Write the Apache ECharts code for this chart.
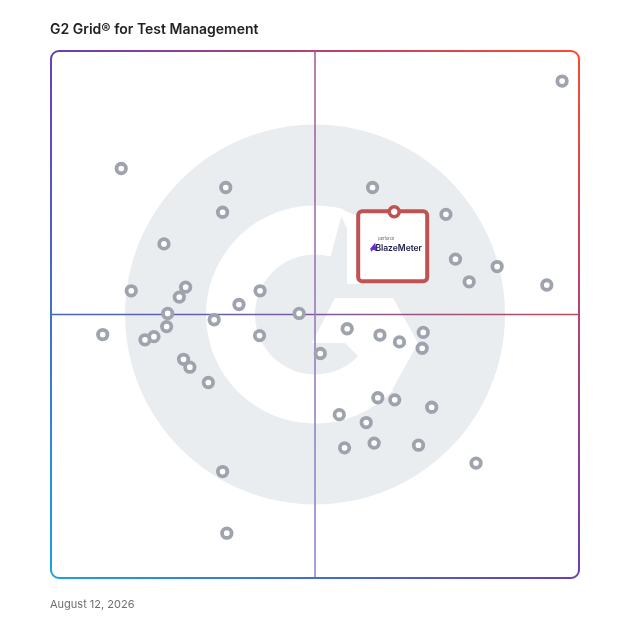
<!DOCTYPE html>
<html>
<head>
<meta charset="utf-8">
<title>G2 Grid for Test Management</title>
<script src="https://cdn.jsdelivr.net/npm/echarts@6/dist/echarts.min.js"></script>
<style>
  html, body { margin: 0; padding: 0; background: #fff; }
  #chart { width: 628px; height: 628px; }
</style>
</head>
<body>
<div id="chart"></div>
<script>
// satisfaction (x) vs market presence (y), both on a 0-100 scale
const productX = [96.8, 13.3, 33.1, 60.9, 32.5, 74.8, 21.4, 76.6, 84.5, 79.2, 93.9,
  15.2, 25.5, 24.3, 39.6, 35.6, 22.1, 47.0, 30.9, 21.9, 9.8, 17.8, 19.5, 39.5,
  56.1, 62.3, 70.5, 66.0, 70.3, 51.0, 25.1, 26.3, 29.8, 61.9, 65.1, 72.1, 54.6,
  59.7, 55.6, 61.2, 69.6, 80.5, 32.5, 33.3];
const productY = [94.3, 77.7, 74.1, 74.1, 69.4, 69.0, 63.4, 60.5, 59.1, 56.2, 55.6,
  54.5, 55.2, 53.3, 54.5, 51.9, 50.2, 50.2, 49.0, 47.7, 46.2, 45.2, 45.8, 46.0,
  47.3, 46.1, 46.6, 44.8, 43.6, 42.6, 41.5, 40.0, 37.1, 34.2, 33.8, 32.4, 31.0,
  29.5, 24.7, 25.6, 25.2, 21.8, 20.2, 8.5];

const featuredName = ['BlazeMeter'];
const featuredX = [65.0];
const featuredY = [69.5];

const titleText = 'G2 Grid® for Test Management';
const dateText = 'August 12, 2026';

const chart = echarts.init(document.getElementById('chart'))

chart.setOption({
  animation: false,
  title: [
    {
      text: titleText, left: 50, top: 23, padding: 0,
      textStyle: { fontFamily: 'Inter', fontWeight: 600, fontSize: 14, color: '#222' }
    },
    {
      text: dateText, left: 50, top: 599, padding: 0,
      textStyle: { fontFamily: 'Inter', fontWeight: 400, fontSize: 11, color: '#6f6f6f' }
    }
  ],
  grid: { left: 51, top: 51, width: 528, height: 527 },
  xAxis: { type: 'value', min: 0, max: 100, show: false },
  yAxis: { type: 'value', min: 0, max: 100, show: false },
  series: [
    {
      type: 'scatter',
      z: 3,
      symbolSize: 9.5,
      itemStyle: { color: '#fff', borderColor: '#9ea3ae', borderWidth: 3.8, opacity: 1 },
      data: productX.map((x, i) => [x, productY[i]])
    },
    {
      type: 'scatter',
      z: 8,
      symbolSize: 10,
      itemStyle: { color: '#fff', borderColor: '#c05352', borderWidth: 3.5, opacity: 1 },
      data: featuredX.map((x, i) => ({ name: featuredName[i], value: [x, featuredY[i]] }))
    }
  ]
})

// decoration: frame, quadrant lines, G2 watermark, featured product card
const tl = chart.convertToPixel({ gridIndex: 0 }, [0, 100])
const br = chart.convertToPixel({ gridIndex: 0 }, [100, 0])
const mid = chart.convertToPixel({ gridIndex: 0 }, [50, 50])
const fp = chart.convertToPixel({ gridIndex: 0 }, [featuredX[0], featuredY[0]])
const cx = mid[0], cy = mid[1]
const deg = Math.PI / 180

const shift = (pts, ox, oy) => pts.map(p => [p[0] + ox, p[1] + oy])

const chevron = [[20, -16.5], [78, -16.5], [103, 28.5], [77, 75.5], [30, 28.5], [-3, 28.5]]
const twoMark = [[22, -107], [45, -97.5], [45, -30.5], [32, -30.5], [32, -86.5]]

chart.setOption({
  graphic: [
    { type: 'circle', z: 0, silent: true, shape: { cx: cx, cy: cy, r: 190 }, style: { fill: '#eaedf0' } },
    {
      type: 'sector', z: 0, silent: true,
      shape: { cx: cx, cy: cy, r: 109, r0: 60, startAngle: 44 * deg, endAngle: 285 * deg, clockwise: true },
      style: { fill: '#fff' }
    },
    { type: 'polygon', z: 0, silent: true, shape: { points: shift(chevron, cx, cy) }, style: { fill: '#fff' } },
    { type: 'polygon', z: 0, silent: true, shape: { points: shift(twoMark, cx, cy) }, style: { fill: '#fff' } },
    {
      type: 'line', z: 1, silent: true,
      shape: { x1: tl[0], y1: cy, x2: br[0], y2: cy },
      style: {
        lineWidth: 1.6,
        stroke: new echarts.graphic.LinearGradient(tl[0], cy, br[0], cy, [
          { offset: 0, color: '#4563c0' }, { offset: 0.5, color: '#7d5b9e' }, { offset: 1, color: '#c24857' }
        ], true)
      }
    },
    {
      type: 'line', z: 1, silent: true,
      shape: { x1: cx, y1: tl[1], x2: cx, y2: br[1] },
      style: {
        lineWidth: 1.6,
        stroke: new echarts.graphic.LinearGradient(cx, tl[1], cx, br[1], [
          { offset: 0, color: '#a55f98' }, { offset: 0.5, color: '#9b7ab8' }, { offset: 1, color: '#8a8bd8' }
        ], true)
      }
    },
    {
      type: 'rect', z: 1, silent: true,
      shape: { x: tl[0], y: tl[1], width: br[0] - tl[0], height: br[1] - tl[1], r: 8 },
      style: {
        fill: 'none', lineWidth: 2,
        stroke: new echarts.graphic.LinearGradient(tl[0], br[1], br[0], tl[1], [
          { offset: 0, color: '#1ba2de' }, { offset: 0.5, color: '#6a3db6' }, { offset: 1, color: '#ff4a2b' }
        ], true)
      }
    },
    {
      type: 'group', z: 6, x: fp[0], y: fp[1], silent: true,
      children: [
        {
          type: 'rect', z: 6,
          shape: { x: -36, y: -0.5, width: 69, height: 70, r: 4 },
          style: { fill: '#fff', stroke: '#c05352', lineWidth: 4 }
        },
        {
          type: 'polygon', z: 7,
          shape: { points: [[-24, 37], [-19, 31], [-17.5, 39.5], [-21, 38], [-23, 40]] },
          style: { fill: '#6a2be0' }
        },
        {
          type: 'text', z: 7,
          style: { x: -16, y: 27, text: 'perforce', fontSize: 4, fill: '#555', fontFamily: 'Inter', verticalAlign: 'middle' }
        },
        {
          type: 'text', z: 7,
          style: {
            x: 4.5, y: 36.5, text: featuredName[0], fontSize: 8.5, fontWeight: 600,
            fontFamily: 'Inter', fill: '#1b1a4a', align: 'center', verticalAlign: 'middle'
          }
        }
      ]
    }
  ]
})
</script>
</body>
</html>
